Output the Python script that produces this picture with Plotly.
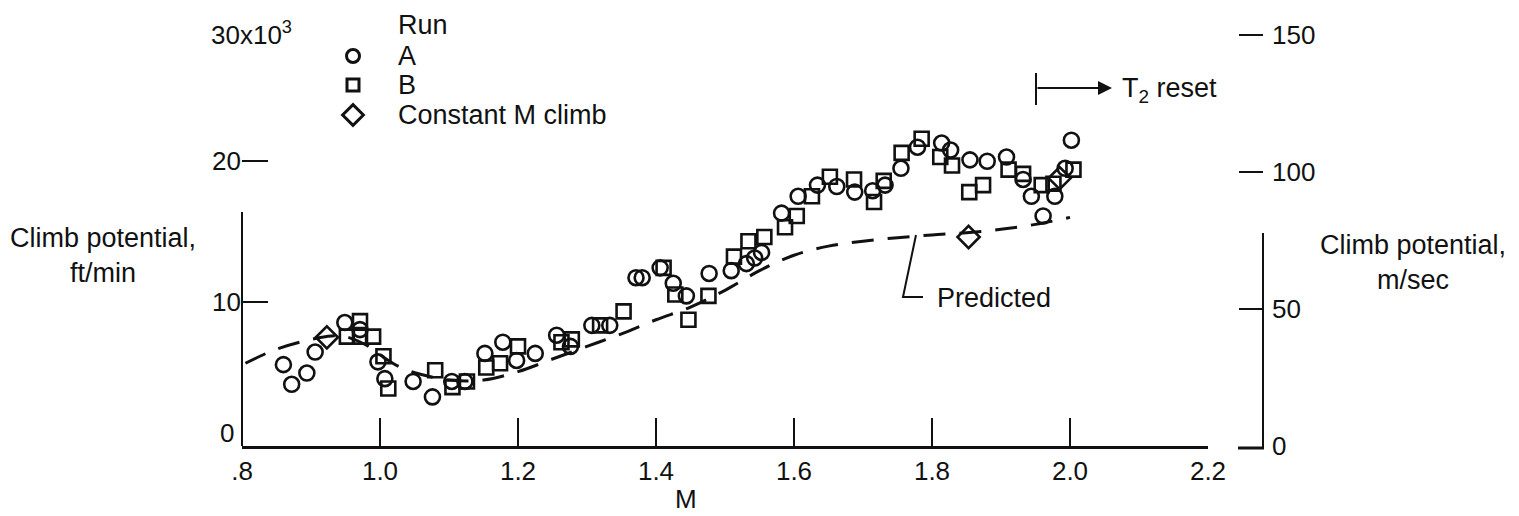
import plotly.graph_objects as go

# ---------------- data ----------------
mach_a = [0.860, 0.872, 0.894, 0.906, 0.949, 0.971, 0.997, 1.007, 1.048, 1.076,
          1.104, 1.123, 1.152, 1.178, 1.198, 1.225, 1.256, 1.276, 1.307, 1.333,
          1.371, 1.380, 1.406, 1.425, 1.444, 1.477, 1.509, 1.531, 1.543, 1.553,
          1.582, 1.606, 1.634, 1.662, 1.688, 1.714, 1.732, 1.755, 1.779, 1.814,
          1.827, 1.855, 1.880, 1.908, 1.932, 1.944, 1.961, 1.978, 1.993, 2.002]
climb_a = [5.5, 4.1, 4.9, 6.4, 8.5, 8.0, 5.7, 4.5, 4.3, 3.2,
           4.3, 4.3, 6.3, 7.1, 5.8, 6.3, 7.6, 6.8, 8.3, 8.3,
           11.7, 11.7, 12.4, 11.3, 10.4, 12.0, 12.2, 12.7, 13.1, 13.5,
           16.3, 17.5, 18.3, 18.2, 17.8, 17.9, 18.3, 19.5, 21.0, 21.3,
           20.8, 20.1, 20.0, 20.3, 18.7, 17.5, 16.1, 17.5, 19.5, 21.5]

mach_b = [0.952, 0.971, 0.971, 0.990, 1.005, 1.012, 1.080, 1.105, 1.126, 1.154,
          1.174, 1.200, 1.263, 1.278, 1.319, 1.353, 1.411, 1.428, 1.447, 1.476,
          1.513, 1.534, 1.557, 1.587, 1.604, 1.626, 1.652, 1.687, 1.716, 1.730,
          1.756, 1.785, 1.812, 1.829, 1.854, 1.874, 1.911, 1.932, 1.959, 1.976,
          2.005]
climb_b = [7.5, 8.6, 7.5, 7.5, 6.1, 3.8, 5.1, 3.9, 4.3, 5.3,
           5.6, 6.8, 7.1, 7.3, 8.3, 9.3, 12.4, 10.5, 8.7, 10.4,
           13.2, 14.3, 14.6, 15.3, 16.1, 17.5, 18.9, 18.7, 17.1, 18.6,
           20.6, 21.6, 20.3, 19.7, 17.8, 18.3, 19.4, 19.1, 18.3, 18.4,
           19.4]

mach_c = [0.923, 1.853, 1.985]
climb_c = [7.45, 14.6, 18.8]

mach_pred = [0.805, 0.85, 0.90, 0.93, 0.95, 0.98, 1.00, 1.03, 1.06, 1.10,
             1.15, 1.20, 1.25, 1.30, 1.35, 1.40, 1.45, 1.50, 1.55, 1.60,
             1.65, 1.70, 1.75, 1.80, 1.85, 1.90, 1.95, 2.00]
climb_pred = [5.6, 6.6, 7.3, 7.55, 7.5, 6.9, 6.2, 5.3, 4.8, 4.4,
              4.4, 5.0, 5.9, 6.8, 7.7, 8.7, 9.6, 10.8, 12.2, 13.3,
              13.95, 14.3, 14.55, 14.75, 14.9, 15.15, 15.5, 16.0]

x_ticks = [0.8, 1.0, 1.2, 1.4, 1.6, 1.8, 2.0, 2.2]
x_ticktext = [".8", "1.0", "1.2", "1.4", "1.6", "1.8", "2.0", "2.2"]
y_ticks = [10, 20]
y2_ticks = [0, 50, 100, 150]

# ---------------- layout helpers ----------------
W, H = 1519, 516
L, R, T, B = 242, 256, 20, 70
PW, PH = W - L - R, H - T - B
FONT = "Liberation Sans, Arial, sans-serif"
BLK = "#111111"
FS = 27


def px(x):
    return (x - L) / PW


def py(y):
    return (H - B - y) / PH


fig = go.Figure()

fig.add_trace(go.Scatter(
    x=mach_pred, y=climb_pred, mode="lines", line_shape="spline",
    line=dict(color=BLK, width=3, dash="22px,14px"), showlegend=False))

fig.add_trace(go.Scatter(
    x=mach_a, y=climb_a, mode="markers", showlegend=False,
    marker=dict(symbol="circle-open", size=15, color=BLK, line=dict(width=2.6))))
fig.add_trace(go.Scatter(
    x=mach_b, y=climb_b, mode="markers", showlegend=False,
    marker=dict(symbol="square-open", size=14, color=BLK, line=dict(width=2.6))))
fig.add_trace(go.Scatter(
    x=mach_c, y=climb_c, mode="markers", showlegend=False,
    marker=dict(symbol="diamond-open", size=17, color=BLK, line=dict(width=2.6))))

# legend markers (pixel-mapped overlay axes)
leg_sym = ["circle-open", "square-open", "diamond-open"]
leg_y = [56, 85, 115]
leg_size = [13, 12, 16]
for s, yy, sz in zip(leg_sym, leg_y, leg_size):
    fig.add_trace(go.Scatter(
        x=[353], y=[yy], xaxis="x3", yaxis="y3", mode="markers", showlegend=False,
        marker=dict(symbol=s, size=sz, color=BLK, line=dict(width=3))))

xfrac = (1208 - L) / PW

fig.update_layout(
    width=W, height=H, margin=dict(l=L, r=R, t=T, b=B),
    paper_bgcolor="white", plot_bgcolor="white",
    font=dict(family=FONT, size=FS, color=BLK),
    xaxis=dict(domain=[0, xfrac], range=[0.8, 2.2], tickvals=x_ticks, ticktext=x_ticktext,
               ticks="inside", ticklen=28, tickwidth=2, tickcolor=BLK,
               showline=True, linewidth=3, linecolor=BLK, showgrid=False, zeroline=False,
               tickfont=dict(size=26)),
    yaxis=dict(range=[-0.3, 30.07], tickvals=y_ticks, ticktext=["10", "20"],
               ticks="inside", ticklen=26, tickwidth=2, tickcolor=BLK,
               showline=False, showgrid=False, zeroline=False, tickfont=dict(size=26)),
    yaxis2=dict(overlaying="y", side="right", anchor="free", position=1.0,
                range=[0, 155.5], tickvals=y2_ticks, ticks="inside", ticklen=24,
                tickwidth=2, tickcolor=BLK, showline=False, showgrid=False,
                zeroline=False, tickfont=dict(size=26), ticklabelstandoff=8),
    xaxis3=dict(overlaying="x", anchor="y3", range=[L, 1208], visible=False),
    yaxis3=dict(overlaying="y", anchor="x3", range=[H - B, T], visible=False),
)

# invisible trace to activate y2
fig.add_trace(go.Scatter(x=[0.8], y=[0], yaxis="y2", mode="markers",
                         marker=dict(opacity=0), showlegend=False, hoverinfo="skip"))

shapes = [
    dict(type="line", xref="paper", yref="paper", x0=0, x1=0, y0=py(446), y1=py(212),
         line=dict(color=BLK, width=2)),
    dict(type="line", xref="paper", yref="paper", x0=1, x1=1, y0=py(448), y1=py(233),
         line=dict(color=BLK, width=2)),
    dict(type="line", xref="paper", yref="paper", x0=px(1238), x1=px(1264), y0=py(448), y1=py(448),
         line=dict(color=BLK, width=3)),
    dict(type="line", xref="paper", yref="paper", x0=px(1036), x1=px(1036), y0=py(73), y1=py(105),
         line=dict(color=BLK, width=2)),
    dict(type="path", xref="paper", yref="paper",
         path=f"M {px(916)} {py(235)} L {px(903)} {py(297)} L {px(923)} {py(297)}",
         line=dict(color=BLK, width=2)),
]
fig.update_layout(shapes=shapes)

ann = []


def text(x, y, s, size=FS, xanchor="center", align="center"):
    ann.append(dict(xref="paper", yref="paper", x=px(x), y=py(y), text=s, showarrow=False,
                    xanchor=xanchor, yanchor="middle", align=align,
                    font=dict(family=FONT, size=size, color=BLK)))


text(103, 255, "Climb potential,<br>ft/min")
text(1413, 262, "Climb potential,<br>m/sec")
text(686, 499, "M", size=26)
text(209, 33, "30x10<sup>3</sup>", size=26, xanchor="left")
text(236, 433, "0", size=26, xanchor="right")
text(396, 25, "Run", xanchor="left")
text(396, 56, "A", xanchor="left")
text(396, 85, "B", xanchor="left")
text(396, 115, "Constant M climb", xanchor="left")
text(935, 298, "Predicted", xanchor="left")
text(1120, 90, "T<sub>2</sub> reset", xanchor="left")

ann.append(dict(xref="paper", yref="paper", x=px(1112), y=py(88), ax=-76, ay=0,
                showarrow=True, arrowhead=2, arrowsize=1.4,
                arrowwidth=2, arrowcolor=BLK, text=""))

fig.update_layout(annotations=ann)

fig.write_html("out.html")
